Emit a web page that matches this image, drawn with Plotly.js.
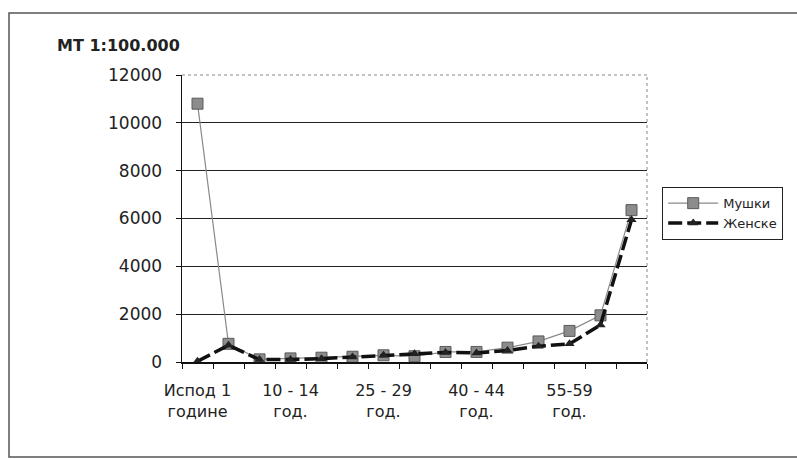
<!DOCTYPE html>
<html>
<head>
<meta charset="utf-8">
<script src="https://cdn.plot.ly/plotly-3.0.1.min.js"></script>
<style>html,body{margin:0;padding:0;background:#fff;}#chart{width:797px;height:459px;}</style>
</head>
<body>
<div id="chart"></div>
<script>
var categories = ['Испод 1 године','1 - 4 год.','5 - 9 год.','10 - 14 год.','15 - 19 год.','20 - 24 год.','25 - 29 год.','30 - 34 год.','35 - 39 год.','40 - 44 год.','45 - 49 год.','50 - 54 год.','55-59 год.','60 - 64 год.','65 и више год.'];
var tickLabels = ['Испод 1<br>године','','','10 - 14<br>год.','','','25 - 29<br>год.','','','40 - 44<br>год.','','','55-59<br>год.','',''];
var male = [10800, 760, 110, 150, 180, 220, 280, 240, 420, 420, 600, 860, 1300, 1950, 6350];
var female = [30, 700, 100, 100, 140, 210, 280, 350, 400, 380, 480, 660, 760, 1550, 5950];
var yTicks = [0, 2000, 4000, 6000, 8000, 10000, 12000];

var L = 182, R = 647, T = 75, B = 362;
function px(x){ return (x - L) / (R - L); }
function py(y){ return (B - y) / (B - T); }

var traces = [
  {x: categories, y: male, name: 'Мушки', type: 'scatter', mode: 'lines+markers',
   line: {color: '#8a8a8a', width: 1.2},
   marker: {symbol: 'square', size: 11, color: '#8c8c8c', line: {color: '#5a5a5a', width: 1}}},
  {x: categories, y: female, name: 'Женске', type: 'scatter', mode: 'lines+markers',
   line: {color: '#111', width: 3.5, dash: '14px,5px'},
   marker: {symbol: 'triangle-up', size: 9, color: '#222'}}
];

var font = 'DejaVu Sans, Liberation Sans, Arial, sans-serif';
var layout = {
  width: 797, height: 459,
  margin: {l: L, r: 797 - R, t: T, b: 459 - B},
  paper_bgcolor: '#fff', plot_bgcolor: '#fff',
  showlegend: true,
  title: {text: '<b>MT 1:100.000</b>', x: 57/797, xanchor: 'left', xref: 'container',
          y: 1 - 45/459, yanchor: 'middle', yref: 'container',
          font: {family: font, size: 16, color: '#222'}},
  xaxis: {type: 'category', tickson: 'boundaries', tickvals: categories, ticktext: tickLabels,
          tickangle: 0,
          ticks: 'outside', ticklen: 5, tickcolor: '#111', tickwidth: 1,
          showline: true, linecolor: '#111', linewidth: 1.5, showgrid: false, zeroline: false,
          tickfont: {family: font, size: 16, color: '#222'}, ticklabelstandoff: 13,
          range: [-0.5, 14.5], fixedrange: true},
  yaxis: {range: [0, 12000], tickvals: yTicks, ticktext: yTicks.map(String),
          ticks: 'outside', ticklen: 5, tickcolor: '#111',
          showline: true, linecolor: '#111', linewidth: 1.5,
          showgrid: true, gridcolor: '#222', gridwidth: 1.2, zeroline: false,
          tickfont: {family: font, size: 17, color: '#222'}, ticklabelstandoff: 10, fixedrange: true},
  legend: {x: px(662), xanchor: 'left', y: py(187), yanchor: 'top',
           bordercolor: '#222', borderwidth: 1.2, bgcolor: '#fff',
           font: {family: font, size: 13, color: '#222'}, itemwidth: 50,
           tracegroupgap: 0},
  shapes: [
    {type: 'line', xref: 'paper', yref: 'paper', x0: 0, x1: 1, y0: 1, y1: 1,
     line: {color: '#fff', width: 2.5}, layer: 'above'},
    {type: 'line', xref: 'paper', yref: 'paper', x0: 0, x1: 1, y0: 1, y1: 1,
     line: {color: '#888', width: 1, dash: 'dot'}, layer: 'above'},
    {type: 'line', xref: 'paper', yref: 'paper', x0: 1, x1: 1, y0: 0, y1: 1,
     line: {color: '#888', width: 1, dash: 'dot'}, layer: 'above'},
    {type: 'rect', xref: 'paper', yref: 'paper', x0: px(9), x1: px(810), y0: py(13), y1: py(457),
     line: {color: '#555', width: 1.5}, layer: 'below'}
  ]
};
Plotly.newPlot('chart', traces, layout, {staticPlot: true, displayModeBar: false});
</script>
</body>
</html>
